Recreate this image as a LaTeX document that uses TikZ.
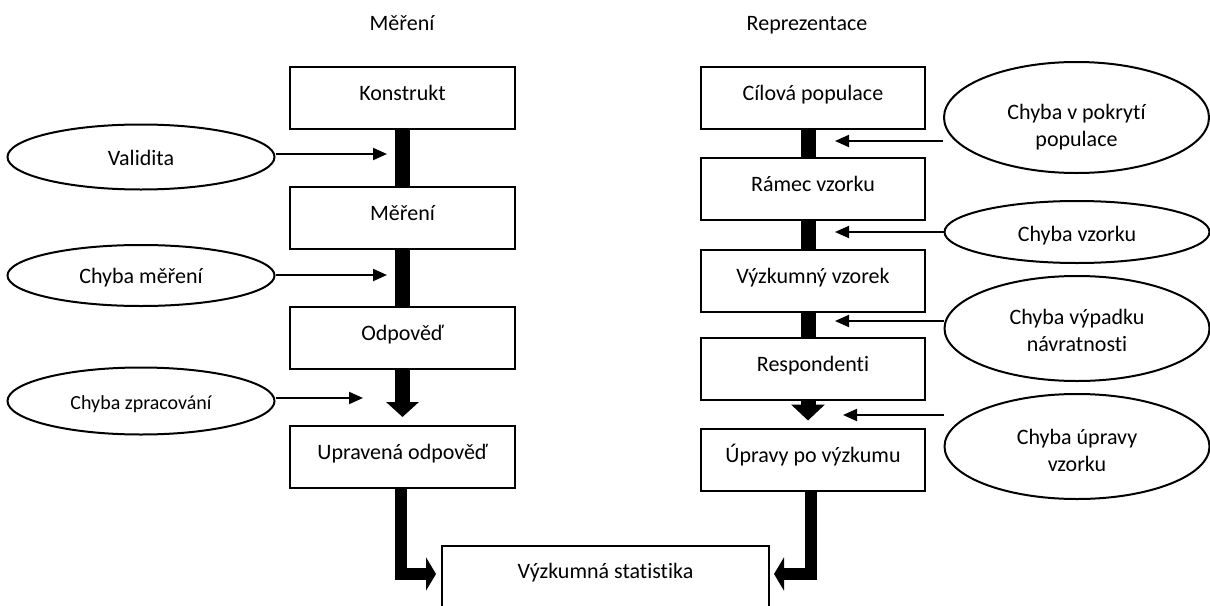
\documentclass[tikz,border=0pt]{standalone}
\usepackage{fontspec}
\setmainfont{Carlito}[Ligatures={NoCommon,NoRequired,NoContextual}]
\usetikzlibrary{shapes.geometric,arrows.meta}
\newcommand{\lowtext}[2]{\raisebox{#1}[\height][\depth]{\begin{tabular}{@{}c@{}}#2\end{tabular}}}
\begin{document}
\begin{tikzpicture}[x=0.5pt,y=-0.5pt,
  every node/.style={font=\fontsize{11}{13.5}\selectfont},
  box/.style={draw, line width=1pt, rectangle, minimum width=112.5pt, minimum height=31pt,
    inner sep=0pt, text height=10.5pt, text depth=8pt},
  ell/.style={draw, line width=1pt, ellipse, inner sep=0pt, align=center},
  errarrow/.style={line width=1pt, -{Triangle[length=7pt,width=6pt]}},
  linkbar/.style={line width=7.5pt},
  bigarrow/.style={line width=7.5pt, -{Triangle[length=7.5pt,width=16pt]}},
  elbow/.style={line width=6pt, line join=miter, -{Triangle[length=5pt,width=16.5pt]}},
  coltitle/.style={inner sep=0pt, anchor=base}]
\useasboundingbox (0,0) rectangle (1210,605);
\clip (0,0) rectangle (1210,605);

% titles
\node[coltitle] (tL) at (402,30) {Měření};
\node[coltitle] (tR) at (807,30) {Reprezentace};

% left column
\node[box] (k1) at (402.5,97.5) {Konstrukt};
\node[box] (k2) at (402.5,218) {Měření};
\node[box] (k3) at (402.5,337.5) {Odpověď};
\node[box] (k4) at (402.5,457) {Upravená odpověď};

% right column
\node[box, minimum width=112pt] (r1) at (813,98) {Cílová populace};
\node[box, minimum width=112pt] (r2) at (813,189) {Rámec vzorku};
\node[box, minimum width=112pt] (r3) at (813,280.5) {Výzkumný vzorek};
\node[box, minimum width=112pt] (r4) at (813,368.5) {Respondenti};
\node[box, minimum width=112pt] (r5) at (813,459.5) {Úpravy po výzkumu};

% result
\node[box, minimum width=163.5pt, minimum height=39.5pt, text height=8pt, text depth=15.5pt]
  (stat) at (605.5,585.5) {Výzkumná statistika};

% error ellipses, left
\node[ell, minimum width=133.5pt, minimum height=32.5pt] (e1) at (141,157) {\lowtext{-1.5pt}{Validita}};
\node[ell, minimum width=133.5pt, minimum height=30.5pt] (e2) at (141,275.5) {\lowtext{-1.5pt}{Chyba měření}};
\node[ell, minimum width=133.5pt, minimum height=33.5pt, font=\fontsize{10}{12}\selectfont]
  (e3) at (141,401) {\lowtext{-2pt}{Chyba zpracování}};

% error ellipses, right
\node[ell, minimum width=132.5pt, minimum height=55.5pt] (f1) at (1076.5,117.5) {\lowtext{-5pt}{Chyba v pokrytí\\populace}};
\node[ell, minimum width=132.5pt, minimum height=31pt] (f2) at (1077,232) {\lowtext{-2pt}{Chyba vzorku}};
\node[ell, minimum width=132.5pt, minimum height=52.5pt] (f3) at (1077,328.5) {\lowtext{-2pt}{Chyba výpadku\\návratnosti}};
\node[ell, minimum width=132.5pt, minimum height=52.5pt] (f4) at (1077,446.5) {\lowtext{-3pt}{Chyba úpravy\\vzorku}};

% arrow tips of error arrows
\coordinate (t1) at (387,154);
\coordinate (t2) at (387,275);
\coordinate (t3) at (363,398);
\coordinate (u1) at (835,141);
\coordinate (u2) at (835,232);
\coordinate (u3) at (835,321);
\coordinate (u4) at (843,415);
\coordinate (sL) at (436,574);
\coordinate (sR) at (774,574);

% left links
\draw[linkbar] (k1.south) -- (k2.north);
\draw[linkbar] (k2.south) -- (k3.north);
\draw[bigarrow] (k3.south) -- ([yshift=4pt]k4.north);

% right links
\draw[linkbar] ([xshift=-2.5pt]r1.south) -- ([xshift=-2.5pt]r2.north);
\draw[linkbar] ([xshift=-2.5pt]r2.south) -- ([xshift=-2.5pt]r3.north);
\draw[linkbar] ([xshift=-2.5pt]r3.south) -- ([xshift=-2.5pt]r4.north);
\draw[bigarrow, -{Triangle[length=8pt,width=16.5pt]}] ([xshift=-2.5pt]r4.south) -- ([xshift=-2.5pt,yshift=3.5pt]r5.north);

% into result
\draw[elbow] ([xshift=-0.75pt]k4.south) |- (sL);
\draw[elbow] ([xshift=-1pt]r5.south) |- (sR);

% error arrows
\draw[errarrow] (e1.east |- t1) -- (t1);
\draw[errarrow] (e2.east |- t2) -- (t2);
\draw[errarrow] (e3.east |- t3) -- (t3);
\draw[errarrow] (f1.west |- u1) -- (u1);
\draw[errarrow] (f2.west |- u2) -- (u2);
\draw[errarrow] (f3.west |- u3) -- (u3);
\draw[errarrow] (f4.west |- u4) -- (u4);
\end{tikzpicture}
\end{document}
